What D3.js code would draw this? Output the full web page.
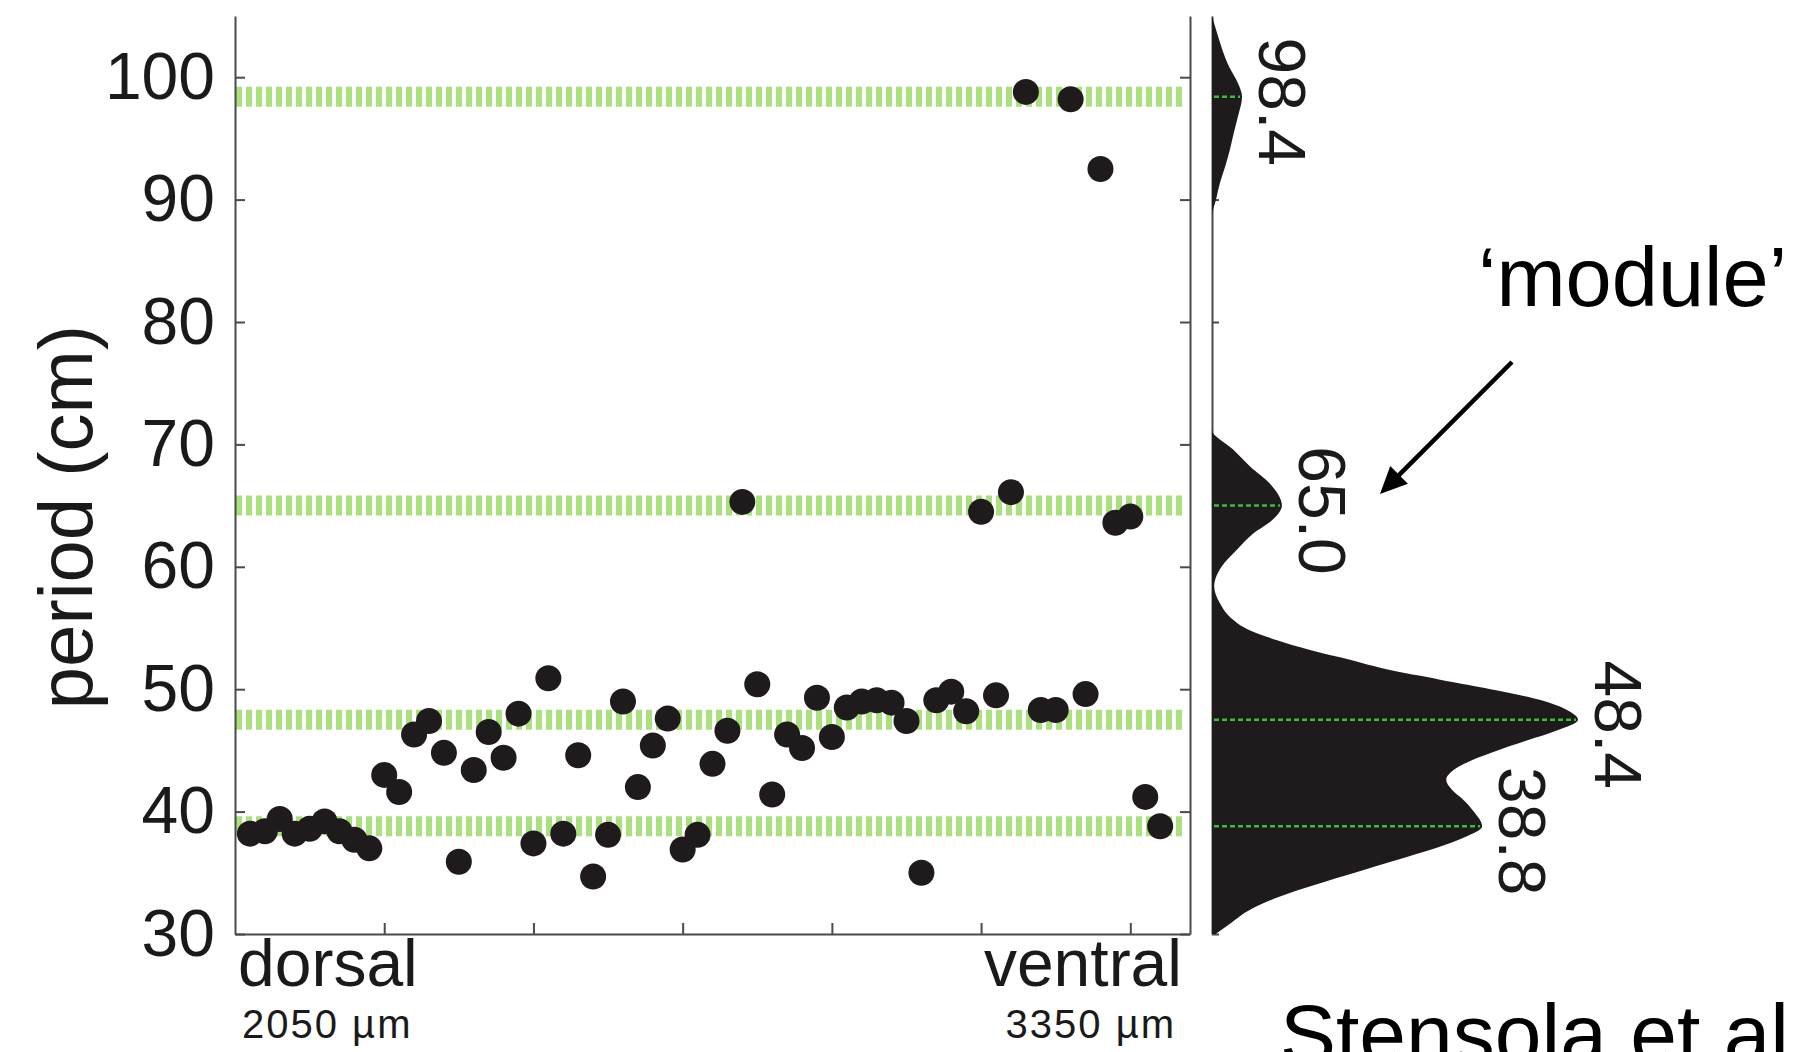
<!DOCTYPE html>
<html>
<head>
<meta charset="utf-8">
<script src="https://cdn.jsdelivr.net/npm/d3@7"></script>
<style>
  body { margin: 0; background: #fff; }
  svg { display: block; font-family: 'Liberation Sans', Arial, Helvetica, sans-serif; }
</style>
</head>
<body>
<svg id="chart"></svg>
<script>
const DOT_COLOR = '#1f1b1c'
const BAND_COLOR = '#abe07f'
const PEAK_LINE_COLOR = '#34c234'

// grid period of each recorded cell, ordered dorsal -> ventral
const cellPeriods = [
  38.2, 38.4, 39.4, 38.2, 38.6, 39.2, 38.4, 37.7, 37.0, 43.0,
  41.6, 46.3, 47.4, 44.8, 35.9, 43.4, 46.5, 44.4, 48.0, 37.4,
  50.9, 38.2, 44.6, 34.7, 38.1, 49.0, 42.0, 45.4, 47.6, 36.9,
  38.1, 43.9, 46.6, 65.3, 50.4, 41.4, 46.3, 45.2, 49.3, 46.1,
  48.5, 49.0, 49.1, 48.9, 47.4, 35.0, 49.1, 49.8, 48.2, 64.5,
  49.5, 66.1, 98.8, 48.3, 48.3, 98.2, 49.6, 92.5, 63.6, 64.1,
  41.2, 38.8
];

// module peaks: where they sit on the axis, and the value printed next to them
const modulePeaks = [98.4, 65.0, 47.5, 38.8];
const peakLabels = ['98.4', '65.0', '48.4', '38.8'];

// smoothed distribution of periods (relative density, peak = 100)
const densityPeriod = [
  105, 103.6, 100.9, 99.5, 98.4, 96.8, 95.5, 94.1, 92.7, 91.4,
  90.0, 88.6, 71.2, 69.6, 68.2, 66.8, 65.0, 63.8, 62.7, 61.4,
  60.0, 58.4, 57.0, 55.9, 54.8, 54.0, 53.2, 52.4, 51.6, 50.8,
  49.9, 49.1, 48.3, 47.5, 46.6, 45.8, 45.0, 44.2, 43.4, 42.6,
  41.8, 41.0, 40.0, 38.8, 37.9, 37.0, 36.0, 35.0, 34.0, 33.0,
  32.0, 30.9, 30.0
];
const densityValue = [
  0, 1.4, 4.6, 7.1, 8.2, 7.1, 6.0, 4.9, 3.6, 2.2,
  1.1, 0, 0, 5.7, 10.4, 15.8, 19.1, 16.4, 11.2, 6.8,
  2.6, 0.6, 2.2, 4.9, 10.4, 17.8, 26.8, 37.7, 48.0, 62.0,
  78.0, 90.0, 97.0, 100, 94.0, 86.0, 78.0, 71.0, 66.0, 64.0,
  65.5, 68.5, 71.5, 73.8, 69, 61, 50, 39, 28, 18,
  10.5, 5.2, 1.0
];

const yTicks = [30, 40, 50, 60, 70, 80, 90, 100];
const xTicks = [10, 20, 30, 40, 50, 60];


class ModuleChart {

  constructor(_config) {
    this.config = {
      parentElement: _config.parentElement,
      containerWidth: 1808,
      containerHeight: 1052,
      plot: {left: 235, right: 1190, top: 16, bottom: 934},
      density: {left: 1212, right: 1578},
      dotRadius: 13
    }
    this.initVis();
  }

  initVis() {
    let vis = this;
    const c = vis.config;

    vis.svg = d3.select(c.parentElement)
      .attr('width', c.containerWidth)
      .attr('height', c.containerHeight);

    vis.yScale = d3.scaleLinear()
      .domain([30, 105])
      .range([c.plot.bottom, c.plot.top]);

    // cells sit at rank 1..62 along the dorso-ventral axis
    vis.xScale = d3.scaleLinear()
      .domain([0, 64])
      .range([c.plot.left, c.plot.right]);

    vis.dScale = d3.scaleLinear()
      .domain([0, 100])
      .range([c.density.left, c.density.right]);

    vis.renderVis();
  }

  renderVis() {
    let vis = this;
    const c = vis.config;
    const axisStyle = g => {
      g.select('.domain').attr('stroke', '#4a4a4a').attr('stroke-width', 2);
      g.selectAll('.tick line').attr('stroke', '#4a4a4a').attr('stroke-width', 2);
    };

    // dashed green module bands
    vis.svg.append('g')
      .selectAll('line')
      .data(modulePeaks)
      .join('line')
      .attr('x1', vis.xScale(0) + 1)
      .attr('x2', vis.xScale(63.5))
      .attr('y1', d => vis.yScale(d))
      .attr('y2', d => vis.yScale(d))
      .attr('stroke', BAND_COLOR)
      .attr('stroke-width', 20)
      .attr('stroke-dasharray', '6,4');

    // axes (ticks all point inward)
    vis.svg.append('g')
      .attr('transform', `translate(${c.plot.left},0)`)
      .call(d3.axisLeft(vis.yScale).tickValues(yTicks).tickSize(-10).tickSizeOuter(0).tickPadding(20))
      .call(axisStyle)
      .call(g => g.selectAll('.tick text')
        .attr('fill', '#1a1a1a')
        .attr('font-size', 66)
        .attr('font-family', 'Liberation Sans, Arial, sans-serif'));

    vis.svg.append('g')
      .attr('transform', `translate(${c.plot.right},0)`)
      .call(d3.axisRight(vis.yScale).tickValues(yTicks).tickSize(-10).tickSizeOuter(0).tickFormat(''))
      .call(axisStyle);

    vis.svg.append('g')
      .attr('transform', `translate(0,${c.plot.bottom})`)
      .call(d3.axisBottom(vis.xScale).tickValues(xTicks).tickSize(-11).tickSizeOuter(0).tickFormat(''))
      .call(axisStyle);

    // cells
    vis.svg.append('g')
      .selectAll('circle')
      .data(cellPeriods)
      .join('circle')
      .attr('cx', (d, i) => vis.xScale(i + 1))
      .attr('cy', d => vis.yScale(d))
      .attr('r', c.dotRadius)
      .attr('fill', DOT_COLOR);

    // x-axis end labels
    const ends = [
      {label: 'dorsal', depth: '2050 µm', x: c.plot.left + 3, anchor: 'start'},
      {label: 'ventral', depth: '3350 µm', x: c.plot.right - 8, anchor: 'end'}
    ];
    const endG = vis.svg.append('g').attr('fill', '#1a1a1a');
    endG.selectAll('.end-label')
      .data(ends)
      .join('text')
      .attr('class', 'end-label')
      .attr('x', d => d.x)
      .attr('y', c.plot.bottom + 52)
      .attr('text-anchor', d => d.anchor)
      .attr('font-size', 66)
      .text(d => d.label);
    endG.selectAll('.end-depth')
      .data(ends)
      .join('text')
      .attr('class', 'end-depth')
      .attr('x', d => d.anchor === 'start' ? d.x + 4 : d.x - 6)
      .attr('y', c.plot.bottom + 104)
      .attr('text-anchor', d => d.anchor)
      .attr('font-size', 40)
      .attr('letter-spacing', 2)
      .text(d => d.depth);

    vis.svg.append('text')
      .attr('transform', `translate(92,${(c.plot.top + c.plot.bottom) / 2 + 42}) rotate(-90)`)
      .attr('text-anchor', 'middle')
      .attr('font-size', 76)
      .attr('fill', '#1a1a1a')
      .text('period (cm)');

    // density panel
    const dg = vis.svg.append('g');
    dg.append('g')
      .attr('transform', `translate(${c.density.left},0)`)
      .call(d3.axisRight(vis.yScale).tickValues(yTicks).tickSize(7).tickSizeOuter(0).tickFormat(''))
      .call(axisStyle);

    const densityData = densityPeriod.map((p, i) => ({period: p, value: densityValue[i]}));
    const area = d3.area()
      .y(d => vis.yScale(d.period))
      .x0(vis.dScale(0))
      .x1(d => vis.dScale(d.value))
      .curve(d3.curveMonotoneY);

    dg.append('path')
      .datum(densityData)
      .attr('d', area)
      .attr('fill', DOT_COLOR);

    const peakDensity = new Map(densityData.map(d => [d.period, d.value]));
    const peaks = modulePeaks.map((p, i) => ({period: p, value: peakDensity.get(p), label: peakLabels[i]}));

    dg.selectAll('.peak-line')
      .data(peaks)
      .join('line')
      .attr('class', 'peak-line')
      .attr('x1', vis.dScale(0) + 2)
      .attr('x2', d => vis.dScale(d.value) - 2)
      .attr('y1', d => vis.yScale(d.period))
      .attr('y2', d => vis.yScale(d.period))
      .attr('stroke', PEAK_LINE_COLOR)
      .attr('stroke-width', 2.5)
      .attr('stroke-dasharray', '5,3');

    dg.selectAll('.peak-label')
      .data(peaks)
      .join('text')
      .attr('class', 'peak-label')
      .attr('transform', d => `translate(${vis.dScale(d.value) + 17},${vis.yScale(d.period) + 5}) rotate(90)`)
      .attr('text-anchor', 'middle')
      .attr('font-size', 66)
      .attr('fill', '#1a1a1a')
      .text(d => d.label);

    // annotation
    vis.svg.append('text')
      .attr('x', 1478)
      .attr('y', 306)
      .attr('font-size', 83)
      .attr('fill', '#000')
      .text('\u2018module\u2019');

    const start = [1512, 362], tip = [1380, 494];
    const len = Math.hypot(tip[0] - start[0], tip[1] - start[1]);
    const ux = (tip[0] - start[0]) / len, uy = (tip[1] - start[1]) / len;
    const headLen = 27, headHalf = 12.5;
    const base = [tip[0] - ux * headLen, tip[1] - uy * headLen];
    vis.svg.append('line')
      .attr('x1', start[0]).attr('y1', start[1])
      .attr('x2', base[0] + ux * 2).attr('y2', base[1] + uy * 2)
      .attr('stroke', '#000')
      .attr('stroke-width', 4.5);
    vis.svg.append('path')
      .attr('d', `M${tip[0]},${tip[1]}L${base[0] - uy * headHalf},${base[1] + ux * headHalf}L${base[0] + uy * headHalf},${base[1] - ux * headHalf}Z`)
      .attr('fill', '#000');

    // citation, cut by the bottom edge as in the slide
    vis.svg.append('text')
      .attr('x', 1280)
      .attr('y', 1063)
      .attr('font-size', 84)
      .attr('fill', '#000')
      .text('Stensola et al.');
  }
}

new ModuleChart({parentElement: '#chart'});
</script>
</body>
</html>
